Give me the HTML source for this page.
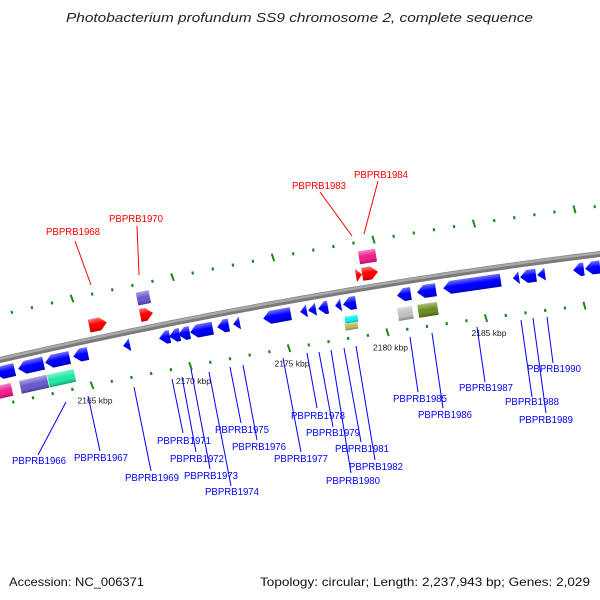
<!DOCTYPE html>
<html><head><meta charset="utf-8"><style>
html,body{margin:0;padding:0;background:#fff;}
svg{display:block;font-family:"Liberation Sans","DejaVu Sans",sans-serif;}
</style></head><body>
<svg id="chart" width="600" height="600" viewBox="0 0 600 600" xmlns="http://www.w3.org/2000/svg">
<defs>
<linearGradient id="shade" x1="0" y1="0" x2="0" y2="1">
<stop offset="0" stop-color="#fff" stop-opacity="0.45"/>
<stop offset="0.45" stop-color="#fff" stop-opacity="0"/>
<stop offset="0.7" stop-color="#000" stop-opacity="0"/>
<stop offset="1" stop-color="#000" stop-opacity="0.3"/>
</linearGradient>
</defs>
<text x="66" y="22" font-size="13" font-style="italic" fill="#222" textLength="467" lengthAdjust="spacingAndGlyphs">Photobacterium profundum SS9 chromosome 2, complete sequence</text>
<g id="ticks"></g>
<path id="backbone" fill="none" stroke="#7a7a7a" stroke-width="6"/>
<path id="backbone-hi" fill="none" stroke="#a8a8a8" stroke-width="2.5"/>
<g id="genes"></g>
<g id="labels"></g>
<text x="9" y="586" font-size="12" fill="#111" textLength="135" lengthAdjust="spacingAndGlyphs">Accession: NC_006371</text>
<text x="260" y="586" font-size="12" fill="#111" textLength="330" lengthAdjust="spacingAndGlyphs">Topology: circular; Length: 2,237,943 bp; Genes: 2,029</text>
</svg>
<script>
// gene data (kbp)
const geneStart = [2164.85,2167.44,2178.40,2178.71,2167.28,2178.55,
 2160.08,2161.24,2162.61,2164.04,2166.57,2168.40,2168.91,2169.37,2169.97,2171.35,2172.16,2173.68,2175.56,2175.96,2176.47,2177.34,2177.74,2180.48,2181.50,2182.82,2186.37,2186.73,2187.59,2189.42,2190.03,
 2159.90,2161.35,2162.77,2177.84,2177.84,2180.53,2181.55];
const geneEnd = [2165.76,2168.10,2178.71,2179.52,2167.94,2179.42,
 2161.09,2162.56,2163.88,2164.80,2166.93,2168.96,2169.47,2169.97,2171.14,2171.95,2172.51,2175.10,2175.91,2176.37,2176.98,2177.64,2178.40,2181.19,2182.46,2185.76,2186.68,2187.54,2188.00,2189.97,2190.79,
 2160.95,2162.77,2164.14,2178.50,2178.50,2181.29,2182.56];
const geneTrack = ['f','f','f','f','a','a',
 'r','r','r','r','r','r','r','r','r','r','r','r','r','r','r','r','r','r','r','r','r','r','r','r','r',
 'b','b','b','c1','c2','b','b'];
const geneColor = ['#ff0000','#ff0000','#ff0000','#ff0000','#6a5acd','#f0208f',
 '#0000ff','#0000ff','#0000ff','#0000ff','#0000ff','#0000ff','#0000ff','#0000ff','#0000ff','#0000ff','#0000ff','#0000ff','#0000ff','#0000ff','#0000ff','#0000ff','#0000ff','#0000ff','#0000ff','#0000ff','#0000ff','#0000ff','#0000ff','#0000ff','#0000ff',
 '#f0208f','#6a5acd','#20e8a0','#00f0f0','#bdb76b','#c0c0c0','#6b8e23'];
const tickKbp = [2158,2159,2160,2161,2162,2163,2164,2165,2166,2167,2168,2169,2170,2171,2172,2173,2174,2175,2176,2177,2178,2179,2180,2181,2182,2183,2184,2185,2186,2187,2188,2189,2190,2191];
const axisLabels = ['2165 kbp','2170 kbp','2175 kbp','2180 kbp','2185 kbp'];
const axisLabelKbp = [2165,2170,2175,2180,2185];
const geneLabels = ['PBPRB1966','PBPRB1967','PBPRB1969','PBPRB1971','PBPRB1972','PBPRB1973','PBPRB1974','PBPRB1975','PBPRB1976','PBPRB1977','PBPRB1978','PBPRB1979','PBPRB1980','PBPRB1981','PBPRB1982','PBPRB1985','PBPRB1986','PBPRB1987','PBPRB1988','PBPRB1989','PBPRB1990','PBPRB1968','PBPRB1970','PBPRB1983','PBPRB1984'];
// label layout: [textX, baseline, lineX1, lineY1, lineX2, lineY2]
const labelLayout = [[12,464,66,402,38,455],[74,461,88,396,100,451],[125,481,134,387,151,471],[157,444,172,379,183,433],[170,462,182,377,196,452],[184,479,191,369,210,469],[205,495,209,372,231,486],[215,433,230,367,241,423],[232,450,243,365,257,440],[274,462,283,358,301,452],[291,419,307,353,317,408],[306,436,319,352,333,427],[326,484,331,350,351,473],[335,452,344,348,361,442],[349,470,356,346,375,460],[393,402,410,337,418,392],[418,418,432,333,443,408],[459,391,477,327,485,382],[505,405,521,320,532,397],[519,423,533,318,546,413],[527,372,547,317,553,363],[46,235,75,241,91,285],[109,222,137,226,139,275],[292,189,320,192,352,236],[354,178,378,181,364,234]];

const NS='http://www.w3.org/2000/svg';
function xs(k){return 92+(k-2165)*19.7;}
function xsUp(k){return 72+(k-2165)*20.1;}
function bb(x){return 360-0.23*x+0.0000889*x*x;}
function slope(x){return -0.23+2*0.0000889*x;}
const trackOff={f:-14,a:-31,r:13,b:32,c1:29,c2:36};
const trackH={f:13,a:13,r:13,b:13,c1:7,c2:7};

let d='';for(let x=-10;x<=610;x+=10){d+=(x===-10?'M':'L')+x+' '+bb(x).toFixed(2)+' ';}
document.getElementById('backbone').setAttribute('d',d);
let d2='';for(let x=-10;x<=610;x+=10){d2+=(x===-10?'M':'L')+x+' '+(bb(x)-1.2).toFixed(2)+' ';}
document.getElementById('backbone-hi').setAttribute('d',d2);

const tg=document.getElementById('ticks');
function tickMark(x,off,major,name){
  const y=bb(x)+off, a=Math.atan(slope(x))*180/Math.PI;
  const r=document.createElementNS(NS,'rect');
  if(major){r.setAttribute('x',-1);r.setAttribute('y',-4);r.setAttribute('width',2);r.setAttribute('height',8);}
  else{r.setAttribute('x',-1);r.setAttribute('y',-1.5);r.setAttribute('width',2.2);r.setAttribute('height',3);}
  r.setAttribute('fill','#1a8a1a');
  r.setAttribute('transform','translate('+x.toFixed(1)+','+y.toFixed(1)+') rotate('+(a+(major?-8:0)).toFixed(1)+')');
  
  
  tg.appendChild(r);
}
tickKbp.forEach(k=>{
  const major=(k%5===0);
  const xu=xsUp(k); if(xu>-5&&xu<605) tickMark(xu,-45-0.005*xu,major,'upper-tick');
  const xl=xs(k); if(xl>-5&&xl<605) tickMark(xl,45+0.008*xl,major,'lower-tick');
});
axisLabels.forEach((t,i)=>{
  const x=xs(axisLabelKbp[i]);
  const el=document.createElementNS(NS,'text');
  el.setAttribute('x',(x+3).toFixed(1));el.setAttribute('y',(bb(x)+45+0.008*x+18).toFixed(1));
  el.setAttribute('text-anchor','middle');el.setAttribute('font-size','8.5');el.setAttribute('fill','#222');
  el.textContent=t;
  
  
  tg.appendChild(el);
});

const gg=document.getElementById('genes');
geneStart.forEach((s,i)=>{
  const e=geneEnd[i],tr=geneTrack[i];
  const x1=xs(s),x2=xs(e),L=x2-x1,cx=(x1+x2)/2,cy=bb(cx)+trackOff[tr],h=trackH[tr];
  const a=Math.atan(slope(cx))*180/Math.PI;
  let pts;
  if(tr==='f'||tr==='r'){
    const hd=L<=9?L:7; const sgn=tr==='f'?1:-1;
    const raw=[[-L/2,-h/2],[L/2-hd,-h/2],[L/2,0],[L/2-hd,h/2],[-L/2,h/2]];
    pts=raw.map(p=>(p[0]*sgn).toFixed(1)+','+p[1].toFixed(1)).join(' ');
  } else {
    pts=[[-L/2,-h/2],[L/2,-h/2],[L/2,h/2],[-L/2,h/2]].map(p=>p[0].toFixed(1)+','+p[1].toFixed(1)).join(' ');
  }
  const g=document.createElementNS(NS,'g');
  g.setAttribute('transform','translate('+cx.toFixed(1)+','+cy.toFixed(1)+') rotate('+a.toFixed(2)+')');
  
  
  const p1=document.createElementNS(NS,'polygon');p1.setAttribute('points',pts);p1.setAttribute('fill',geneColor[i]);
  const p2=document.createElementNS(NS,'polygon');p2.setAttribute('points',pts);p2.setAttribute('fill','url(#shade)');
  g.appendChild(p1);g.appendChild(p2);gg.appendChild(g);
});

const lg=document.getElementById('labels');
geneLabels.forEach((t,i)=>{
  const L=labelLayout[i], red=i>=21, col=red?'#ff0000':'#0000ff';
  const ln=document.createElementNS(NS,'line');
  ln.setAttribute('x1',L[2]);ln.setAttribute('y1',L[3]);ln.setAttribute('x2',L[4]);ln.setAttribute('y2',L[5]);
  ln.setAttribute('stroke',col);ln.setAttribute('stroke-width','1');
  
  
  lg.appendChild(ln);
  const tx=document.createElementNS(NS,'text');
  tx.setAttribute('x',L[0]);tx.setAttribute('y',L[1]);tx.setAttribute('font-size','10.5');
  tx.setAttribute('fill',col);tx.setAttribute('textLength','54');tx.setAttribute('lengthAdjust','spacingAndGlyphs');
  tx.textContent=t;
  
  
  lg.appendChild(tx);
});
</script>
</body></html>
